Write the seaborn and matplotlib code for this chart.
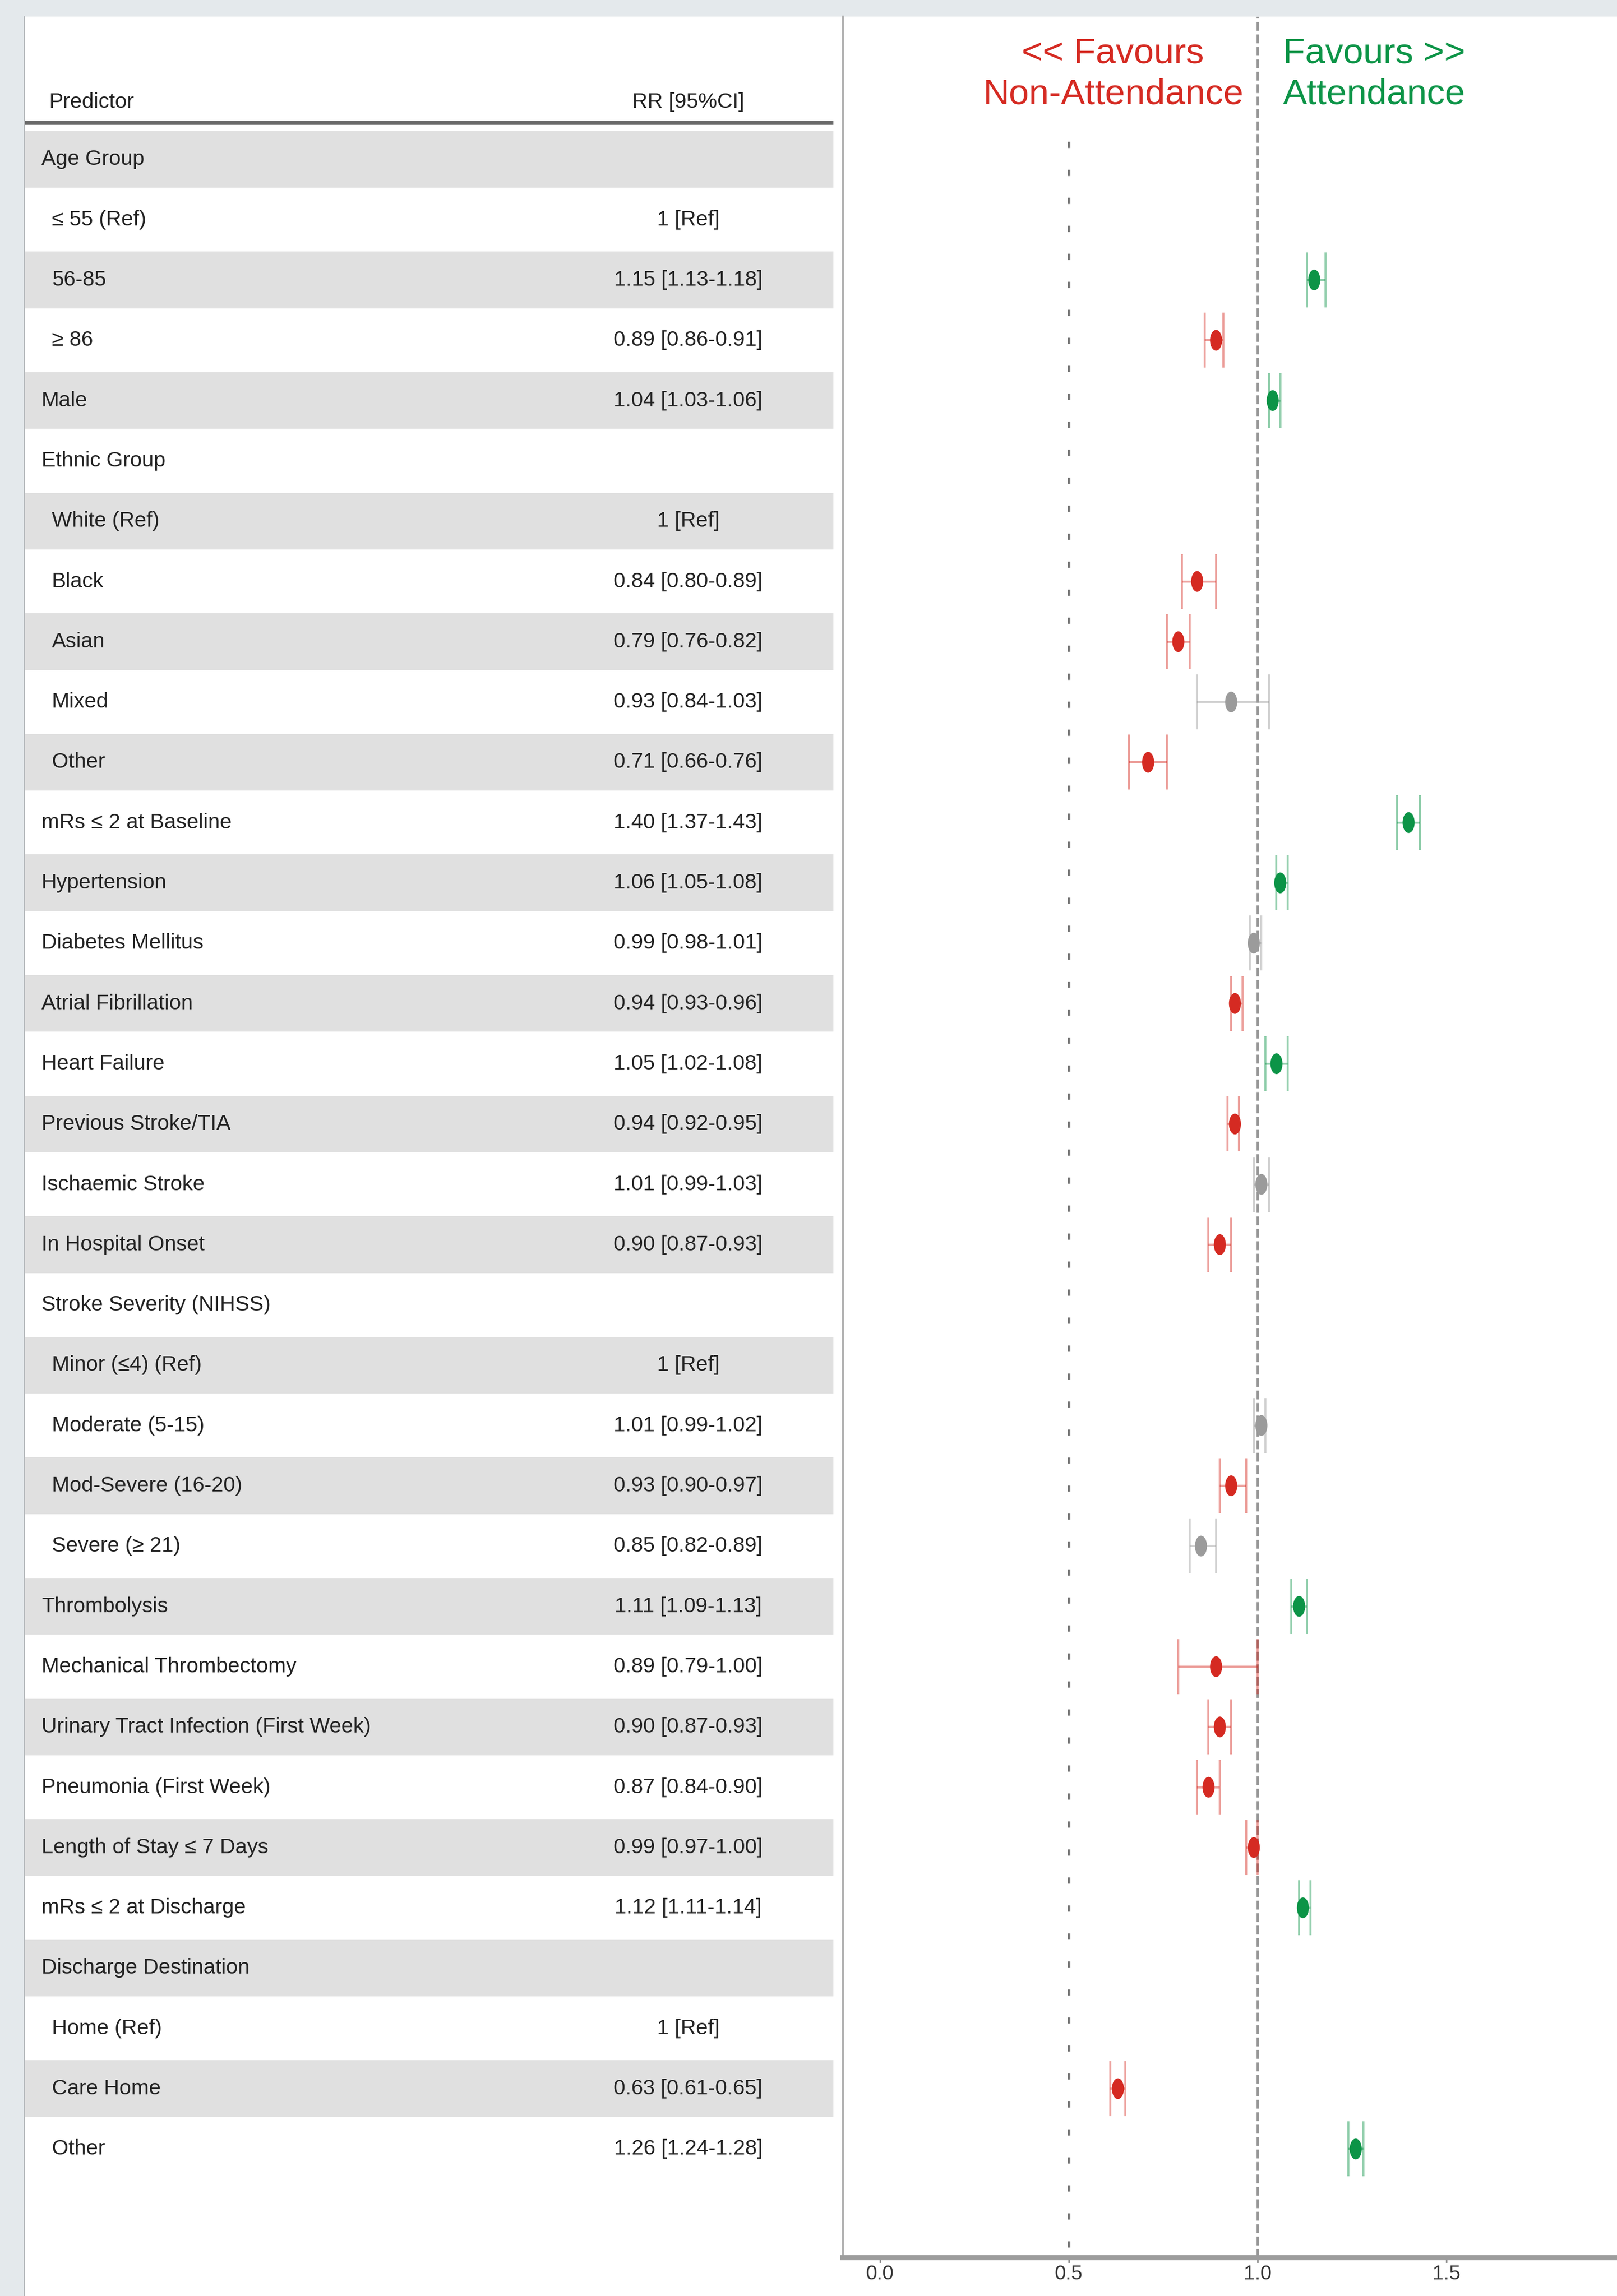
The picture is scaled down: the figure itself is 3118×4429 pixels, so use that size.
import numpy as np
import pandas as pd
import matplotlib
matplotlib.use("Agg")
import matplotlib.pyplot as plt
import seaborn as sns
from matplotlib.path import Path
from matplotlib.transforms import Affine2D
from matplotlib.patches import Rectangle
from matplotlib.lines import Line2D

# ---------------- data ----------------
labels = [
    "Age Group", "≤ 55 (Ref)", "56-85", "≥ 86", "Male", "Ethnic Group",
    "White (Ref)", "Black", "Asian", "Mixed", "Other", "mRs ≤ 2 at Baseline",
    "Hypertension", "Diabetes Mellitus", "Atrial Fibrillation", "Heart Failure",
    "Previous Stroke/TIA", "Ischaemic Stroke", "In Hospital Onset",
    "Stroke Severity (NIHSS)", "Minor (≤4) (Ref)", "Moderate (5-15)",
    "Mod-Severe (16-20)", "Severe (≥ 21)", "Thrombolysis",
    "Mechanical Thrombectomy", "Urinary Tract Infection (First Week)",
    "Pneumonia (First Week)", "Length of Stay ≤ 7 Days", "mRs ≤ 2 at Discharge",
    "Discharge Destination", "Home (Ref)", "Care Home", "Other",
]
indented = [0, 1, 1, 1, 0, 0, 1, 1, 1, 1, 1, 0, 0, 0, 0, 0, 0, 0, 0,
            0, 1, 1, 1, 1, 0, 0, 0, 0, 0, 0, 0, 1, 1, 1]
rr_text = [
    "", "1 [Ref]", "1.15 [1.13-1.18]", "0.89 [0.86-0.91]", "1.04 [1.03-1.06]", "",
    "1 [Ref]", "0.84 [0.80-0.89]", "0.79 [0.76-0.82]", "0.93 [0.84-1.03]",
    "0.71 [0.66-0.76]", "1.40 [1.37-1.43]", "1.06 [1.05-1.08]", "0.99 [0.98-1.01]",
    "0.94 [0.93-0.96]", "1.05 [1.02-1.08]", "0.94 [0.92-0.95]", "1.01 [0.99-1.03]",
    "0.90 [0.87-0.93]", "", "1 [Ref]", "1.01 [0.99-1.02]", "0.93 [0.90-0.97]",
    "0.85 [0.82-0.89]", "1.11 [1.09-1.13]", "0.89 [0.79-1.00]", "0.90 [0.87-0.93]",
    "0.87 [0.84-0.90]", "0.99 [0.97-1.00]", "1.12 [1.11-1.14]", "", "1 [Ref]",
    "0.63 [0.61-0.65]", "1.26 [1.24-1.28]",
]
nan = np.nan
rr = [nan, nan, 1.15, 0.89, 1.04, nan, nan, 0.84, 0.79, 0.93, 0.71, 1.40, 1.06,
      0.99, 0.94, 1.05, 0.94, 1.01, 0.90, nan, nan, 1.01, 0.93, 0.85, 1.11, 0.89,
      0.90, 0.87, 0.99, 1.12, nan, nan, 0.63, 1.26]
lo = [nan, nan, 1.13, 0.86, 1.03, nan, nan, 0.80, 0.76, 0.84, 0.66, 1.37, 1.05,
      0.98, 0.93, 1.02, 0.92, 0.99, 0.87, nan, nan, 0.99, 0.90, 0.82, 1.09, 0.79,
      0.87, 0.84, 0.97, 1.11, nan, nan, 0.61, 1.24]
hi = [nan, nan, 1.18, 0.91, 1.06, nan, nan, 0.89, 0.82, 1.03, 0.76, 1.43, 1.08,
      1.01, 0.96, 1.08, 0.95, 1.03, 0.93, nan, nan, 1.02, 0.97, 0.89, 1.13, 1.00,
      0.93, 0.90, 1.00, 1.14, nan, nan, 0.65, 1.28]
effect = ["", "", "pos", "neg", "pos", "", "", "neg", "neg", "ns", "neg", "pos",
          "pos", "ns", "neg", "pos", "neg", "ns", "neg", "", "", "ns", "neg", "ns",
          "pos", "neg", "neg", "neg", "neg", "pos", "", "", "neg", "pos"]
x_ticks = [0.0, 0.5, 1.0, 1.5]
x_tick_labels = ["0.0", "0.5", "1.0", "1.5"]

RED = "#D52A22"
GREEN = "#0C9447"
GREY = "#9B9B9B"
palette = {"neg": RED, "pos": GREEN, "ns": GREY}

n = len(labels)
df = pd.DataFrame({"label": labels, "indent": indented, "text": rr_text,
                   "rr": rr, "lo": lo, "hi": hi, "effect": effect})
df["row"] = np.arange(1, n + 1)
pts = df.dropna(subset=["rr"])

# ---------------- style ----------------
sns.set_theme(style="white")
plt.rcParams["font.family"] = ["Liberation Sans", "DejaVu Sans"]

W, H = 3118, 4429
fig = plt.figure(figsize=(W / 100, H / 100), dpi=100, facecolor="#E4E9EC")

# white panel
fig.patches.append(Rectangle((47 / W, 0), 1 - 47 / W, (H - 32) / H,
                             transform=fig.transFigure, facecolor="white",
                             edgecolor="none", zorder=-10))
fig.add_artist(Line2D([47 / W, 47 / W], [0, (H - 32) / H], transform=fig.transFigure,
                      color="#b9bdc0", lw=1.5))

row_px = 116.3
row1_px = 307.5
ax_top_px, ax_bot_px = 32, 4355
y_top = 1 - (row1_px - ax_top_px) / row_px
y_bot = 1 + (ax_bot_px - row1_px) / row_px
fy0 = (H - ax_bot_px) / H
fy1 = (H - ax_top_px) / H

TXT = "#222222"
FS = 29.5

# ---------------- table axes ----------------
axt = fig.add_axes([47 / W, fy0, (1607 - 47) / W, fy1 - fy0])
axt.set_xlim(47, 1607)
axt.set_ylim(y_bot, y_top)
axt.axis("off")
axt.patch.set_alpha(0)

for r in df["row"]:
    if r % 2 == 1:
        axt.axhspan(r - 0.47, r + 0.47, color="#E0E0E0", lw=0, zorder=0)

hdr_line_y = 1 - (row1_px - 237) / row_px
axt.axhline(hdr_line_y, color="#6a6a6a", lw=5.5, zorder=2)
axt.text(95, 0.05, "Predictor", ha="left", va="center", fontsize=FS, color=TXT)
axt.text(1327, 0.05, "RR [95%CI]", ha="center", va="center", fontsize=FS, color=TXT)

for _, rw in df.iterrows():
    x = 100 if rw["indent"] else 80
    axt.text(x, rw["row"], rw["label"], ha="left", va="center", fontsize=FS,
             color=TXT, zorder=3)
    if rw["text"]:
        axt.text(1327, rw["row"], rw["text"], ha="center", va="center",
                 fontsize=FS, color=TXT, zorder=3)

# ---------------- forest axes ----------------
ax = fig.add_axes([1625 / W, fy0, 1 - 1625 / W, fy1 - fy0])
ax.set_facecolor("white")
ax.set_xlim(-0.0989, 1.952)
ax.set_ylim(y_bot, y_top)

ax.axvline(1.0, color="#9a9a9a", lw=3.6, linestyle=(0, (3.4, 1.4)), zorder=1)
ax.vlines(0.5, 0.7, y_bot, color="#7a7a7a", lw=3.6, linestyles=[(0, (2.4, 8.4))], zorder=1)

for key, col in palette.items():
    sub = pts[pts["effect"] == key]
    ax.errorbar(sub["rr"], sub["row"],
                xerr=[sub["rr"] - sub["lo"], sub["hi"] - sub["rr"]],
                fmt="none", ecolor=col, alpha=0.45, elinewidth=2.8,
                capsize=38, capthick=2.8, zorder=2)

ellipse = Affine2D().scale(0.58, 1.0).transform_path(Path.unit_circle())
sns.scatterplot(data=pts, x="rr", y="row", hue="effect", palette=palette,
                marker=ellipse, s=830, linewidth=0, edgecolor="none",
                legend=False, ax=ax, zorder=3)

ax.text(0.617, -0.414, "<< Favours\nNon-Attendance", color=RED, ha="center",
        va="center", fontsize=50, linespacing=1.3, multialignment="center")
ax.text(1.309, -0.414, "Favours >>\nAttendance", color=GREEN, ha="center",
        va="center", fontsize=50, linespacing=1.3, multialignment="center")

ax.set_xticks(x_ticks)
ax.set_xticklabels(x_tick_labels)
ax.set_yticks([])
ax.set_xlabel("")
ax.set_ylabel("")
ax.tick_params(axis="x", bottom=True, length=7, width=2, color="#888888",
               labelsize=28, labelcolor="#333333", pad=3)
for s in ["top", "right"]:
    ax.spines[s].set_visible(False)
ax.spines["bottom"].set_color("#9d9d9d")
ax.spines["bottom"].set_linewidth(7)
ax.spines["left"].set_color("#b3b3b3")
ax.spines["left"].set_linewidth(3.5)

fig.savefig("out.png", dpi=100, facecolor=fig.get_facecolor())
